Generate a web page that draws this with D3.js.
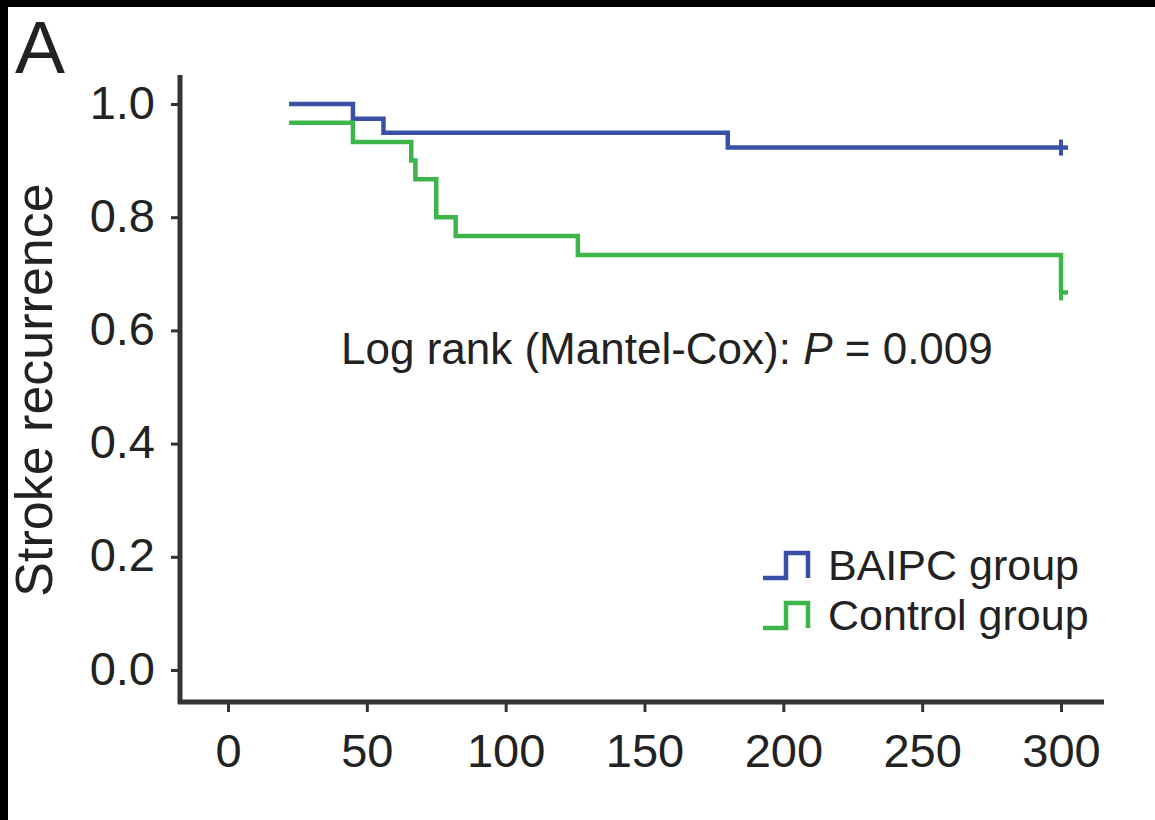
<!DOCTYPE html>
<html>
<head>
<meta charset="utf-8">
<script src="https://cdn.jsdelivr.net/npm/d3@7"></script>
<style>
  body { margin: 0; background: #000; }
  svg { display: block; }
  text { font-family: "Liberation Sans", Arial, sans-serif; fill: #222; }
</style>
</head>
<body>
<svg width="1155" height="820"></svg>
<script>
// Data
var xTicks = [0, 50, 100, 150, 200, 250, 300];
var yTicks = [0.0, 0.2, 0.4, 0.6, 0.8, 1.0];

var baipcTime = [22, 45, 56, 180, 300];
var baipcSurv = [1.0, 0.974, 0.949, 0.923, 0.923];

var controlTime = [22, 45, 66, 67.5, 75, 82, 126, 300, 300];
var controlSurv = [0.967, 0.933, 0.9, 0.867, 0.8, 0.767, 0.733, 0.733, 0.667];

var groups = ["BAIPC group", "Control group"];
var colors = ["#3a50a6", "#3cb64a"];

var svg = d3.select("svg"),
    width = +svg.attr("width"),
    height = +svg.attr("height");

// white panel inside the black frame
svg.append("rect")
    .attr("x", 8).attr("y", 7)
    .attr("width", width - 8).attr("height", height - 7)
    .attr("fill", "#fff");

// scales
var x = d3.scaleLinear().domain([0, 300]).range([228, 1061]);
var y = d3.scaleLinear().domain([0, 1]).range([670, 104]);

var axisLeft = 180, axisBottom = 702;

// y axis
var yAxis = svg.append("g")
    .attr("transform", "translate(" + axisLeft + ",0)")
    .call(d3.axisLeft(y).tickValues(yTicks).tickFormat(d3.format(".1f"))
        .tickSize(9).tickPadding(16));
yAxis.select(".domain").remove();
yAxis.selectAll(".tick line").attr("stroke", "#333").attr("stroke-width", 3);
yAxis.selectAll(".tick text")
    .attr("font-size", 47).attr("fill", "#222").attr("dy", "0.3em")
    .style("font-family", "Liberation Sans, Arial, sans-serif");

// x axis
var xAxis = svg.append("g")
    .attr("transform", "translate(0," + axisBottom + ")")
    .call(d3.axisBottom(x).tickValues(xTicks).tickSize(10).tickPadding(22));
xAxis.select(".domain").remove();
xAxis.selectAll(".tick line").attr("stroke", "#333").attr("stroke-width", 3);
xAxis.selectAll(".tick text")
    .attr("font-size", 47).attr("fill", "#222")
    .style("font-family", "Liberation Sans, Arial, sans-serif");

// axis lines
svg.append("line")
    .attr("x1", axisLeft).attr("x2", axisLeft)
    .attr("y1", 75).attr("y2", axisBottom + 2)
    .attr("stroke", "#333").attr("stroke-width", 5);
svg.append("line")
    .attr("x1", axisLeft - 2).attr("x2", 1104)
    .attr("y1", axisBottom).attr("y2", axisBottom)
    .attr("stroke", "#333").attr("stroke-width", 5);

// survival curves
var series = [
  d3.zip(baipcTime, baipcSurv),
  d3.zip(controlTime, controlSurv)
];

var line = d3.line()
    .x(function (d) { return x(d[0]); })
    .y(function (d) { return y(d[1]); })
    .curve(d3.curveStepAfter);

svg.append("g")
    .selectAll("path")
    .data(series)
    .enter()
    .append("path")
    .attr("d", line)
    .attr("fill", "none")
    .attr("stroke", function (d, i) { return colors[i]; })
    .attr("stroke-width", 4.5);

// censor marks at the end of follow-up
svg.append("g")
    .selectAll("line")
    .data(series)
    .enter()
    .append("line")
    .attr("x1", function (d) { return x(d[d.length - 1][0]); })
    .attr("x2", function (d) { return x(d[d.length - 1][0]); })
    .attr("y1", function (d) { return y(d[d.length - 1][1]) - 8; })
    .attr("y2", function (d) { return y(d[d.length - 1][1]) + 8; })
    .attr("stroke", function (d, i) { return colors[i]; })
    .attr("stroke-width", 4);
svg.append("g")
    .selectAll("line")
    .data(series)
    .enter()
    .append("line")
    .attr("x1", function (d) { return x(d[d.length - 1][0]) - 2; })
    .attr("x2", function (d) { return x(d[d.length - 1][0]) + 7; })
    .attr("y1", function (d) { return y(d[d.length - 1][1]); })
    .attr("y2", function (d) { return y(d[d.length - 1][1]); })
    .attr("stroke", function (d, i) { return colors[i]; })
    .attr("stroke-width", 4.5);

// legend
var legend = svg.append("g").attr("transform", "translate(763,552)");
var item = legend.selectAll("g")
    .data(groups)
    .enter()
    .append("g")
    .attr("transform", function (d, i) { return "translate(0," + (i * 50) + ")"; });
item.append("path")
    .attr("d", "M0,26H23V1H45V26")
    .attr("fill", "none")
    .attr("stroke", function (d, i) { return colors[i]; })
    .attr("stroke-width", 4.5);
item.append("text")
    .attr("x", 65).attr("y", 28)
    .attr("font-size", 43)
    .text(function (d) { return d; });

// annotation
var note = svg.append("text")
    .attr("x", 341).attr("y", 364)
    .attr("font-size", 44);
note.append("tspan").text("Log rank (Mantel-Cox): ");
note.append("tspan").attr("font-style", "italic").text("P");
note.append("tspan").text(" = 0.009");

// y axis title
svg.append("text")
    .attr("transform", "translate(52,390) rotate(-90)")
    .attr("text-anchor", "middle")
    .attr("font-size", 52)
    .text("Stroke recurrence");

// panel letter
svg.append("text")
    .attr("x", 15).attr("y", 73)
    .attr("font-size", 75)
    .text("A");
</script>
</body>
</html>
